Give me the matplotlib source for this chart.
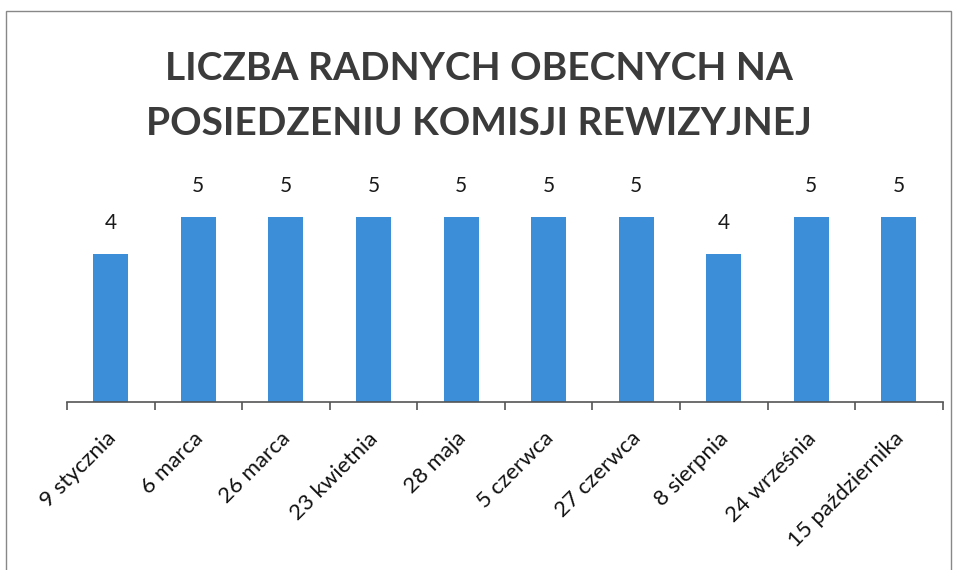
import numpy as np
import matplotlib.pyplot as plt
from matplotlib.patches import Rectangle

# data
dates = ["9 stycznia", "6 marca", "26 marca", "23 kwietnia", "28 maja",
         "5 czerwca", "27 czerwca", "8 sierpnia", "24 września", "15 października"]
obecni = [4, 5, 5, 5, 5, 5, 5, 4, 5, 5]
tytul = "LICZBA RADNYCH OBECNYCH NA\nPOSIEDZENIU KOMISJI REWIZYJNEJ"

plt.rcParams['font.family'] = ['Lato', 'DejaVu Sans']
fig = plt.figure(figsize=(9.57, 5.7), dpi=100)
ax = fig.add_axes([0.070, 0.2947, 0.915, 0.3895])

x = np.arange(len(dates))
bars = ax.bar(x, obecni, width=0.4, color="#3c8ed8")
for b, v in zip(bars, obecni):
  ax.annotate(str(v), (b.get_x() + b.get_width()/2, v), xytext=(0, 22),
              textcoords="offset points", ha="center", va="center",
              fontsize=15, color="#1a1a1a")

ax.set_xlim(-0.5, len(dates) - 0.5)
ax.set_ylim(0, 6)
ax.set_yticks([])
for s in ["top", "right", "left"]:
  ax.spines[s].set_visible(False)
ax.spines["bottom"].set_color("#555555")
ax.spines["bottom"].set_linewidth(1.2)
ax.set_xticks(np.arange(-0.5, len(dates)))
ax.set_xticklabels([])
ax.tick_params(axis="x", length=6, color="#555555", width=1.2)
# rotated category labels, ending just under each category
for i, lab in enumerate(dates):
  ax.text(i + 0.02, -0.9, lab, rotation=45, ha="right", va="center",
          rotation_mode="anchor", fontsize=16, color="#111111")

fig.text(0.5, 0.831, tytul, ha="center", va="center", fontsize=28,
         fontweight="bold", color="#3b3b3b", linespacing=1.7)

# border of the chart area
fig.add_artist(Rectangle((0.006, -0.01), 0.988, 0.99, transform=fig.transFigure,
                         fill=False, edgecolor="#888888", linewidth=1.0))

plt.savefig("out.png")
